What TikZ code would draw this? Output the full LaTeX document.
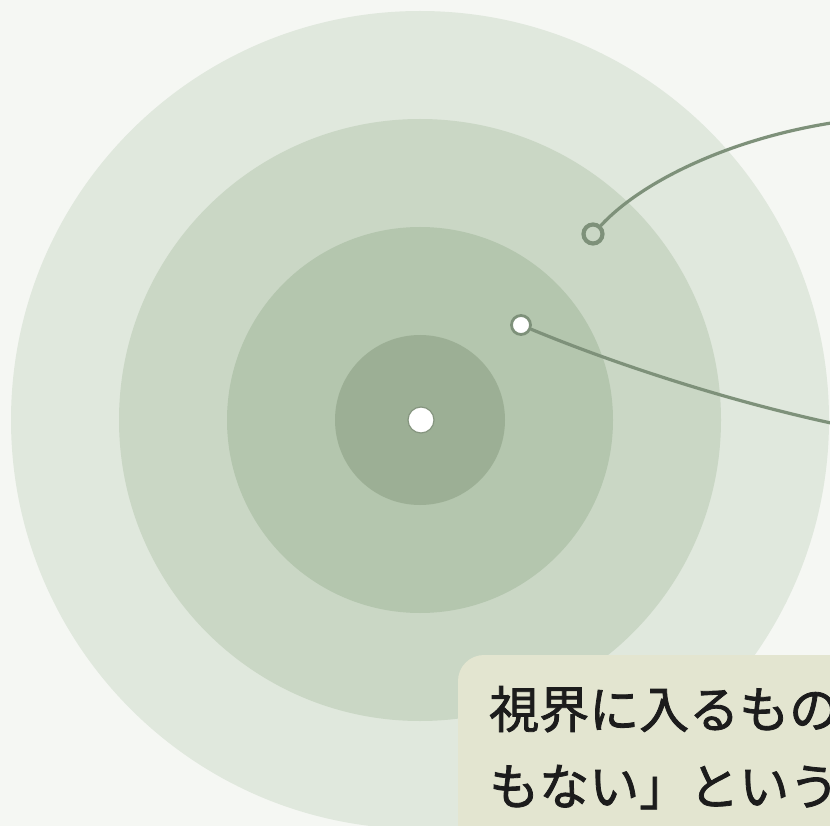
\documentclass[tikz,border=0pt]{standalone}
\usepackage{fontspec}
\newfontfamily\jp[FakeBold=1.6]{Noto Sans CJK JP}
\definecolor{bg}{HTML}{F5F7F3}
\definecolor{ringA}{HTML}{E0E8DD}
\definecolor{ringB}{HTML}{CAD7C5}
\definecolor{ringC}{HTML}{B4C6AE}
\definecolor{ringD}{HTML}{9CAF95}
\definecolor{linec}{HTML}{7E917A}
\definecolor{boxc}{HTML}{E3E5D0}
\definecolor{txt}{HTML}{1C1C1C}
\tikzset{
  leader/.style={draw=linec, line width=3.2pt, line cap=round},
  hollowdot/.style={circle, draw=linec, line width=4.2pt, fill=none, minimum size=19pt, inner sep=0pt},
  whitedot/.style={circle, draw=linec, line width=2.8pt, fill=white, minimum size=19pt, inner sep=0pt},
  centerdot/.style={circle, draw=ringD!85!black, line width=1.2pt, fill=white, minimum size=26pt, inner sep=0pt},
  label/.style={anchor=base west, text=txt, font=\jp\fontsize{50pt}{60pt}\selectfont, inner sep=0pt}
}
\begin{document}
\begin{tikzpicture}[x=1pt,y=-1pt]
\useasboundingbox (0,0) rectangle (830,826);
\clip (0,0) rectangle (830,826);
\fill[bg] (0,0) rectangle (830,826);
\fill[ringA] (420,420) circle[radius=409pt];
\fill[ringB] (420,420) circle[radius=301pt];
\fill[ringC] (420,420) circle[radius=193pt];
\fill[ringD] (420,420) circle[radius=85pt];
\node[centerdot] (c0) at (421,420) {};
\node[hollowdot] (d1) at (593,234) {};
\node[whitedot] (d2) at (521,325) {};
\coordinate (e1) at (845,121);
\coordinate (e2) at (845,426);
\draw[leader] (d1) .. controls (645,178) and (740,135) .. (e1);
\draw[leader] (d2) .. controls (600,358) and (720,400) .. (e2);
\fill[boxc, rounded corners=26pt] (458,655) rectangle (900,900);
\node[label] (t1) at (489,728) {視界に入るもの};
\node[label] (t2) at (489,805) {もない」という};
\end{tikzpicture}
\end{document}
